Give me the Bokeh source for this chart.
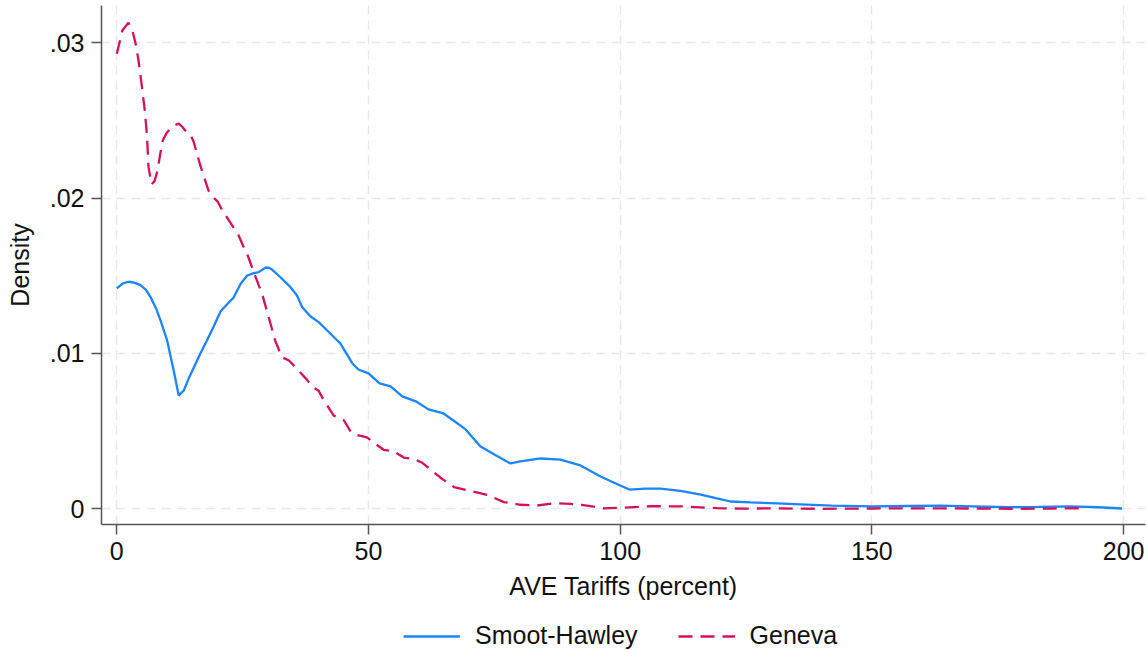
from bokeh.plotting import figure
from bokeh.models import Range1d, FixedTicker, ColumnDataSource, Legend, LegendItem
from bokeh.layouts import column
from bokeh.embed import file_html
from bokeh.resources import INLINE

# Smoot-Hawley kernel density
sh_x = [0, 1.2, 2.4, 3.6, 4.7, 5.8, 6.7, 7.8, 8.7, 10.0, 11.3, 12.3, 13.3, 14.3, 15.3,
        16.6, 17.9, 19.2, 20.6, 22.0, 23.2, 24.6, 25.9, 27.2, 28.2, 29.5, 30.2, 30.9,
        32.5, 34.5, 35.8, 36.8, 38.5, 40.1, 41.8, 43.8, 44.4, 46.8, 48.0, 50.0, 52.2,
        54.4, 56.7, 59.4, 61.9, 64.9, 67.0, 69.3, 72.2, 75.0, 78.2, 80.2, 84.2, 88.1,
        92.1, 96.1, 99.0, 101.8, 105.0, 108.0, 112.0, 116.0, 119.0, 121.9, 125.9, 130.0,
        135.8, 142.0, 150.0, 157.0, 163.6, 170.0, 177.5, 183.0, 189.4, 195.0, 199.7]
sh_y = [0.01419, 0.01452, 0.01462, 0.01455, 0.01440, 0.01410, 0.01363, 0.01290, 0.01212,
        0.01084, 0.00890, 0.00730, 0.00762, 0.00840, 0.00910, 0.01000, 0.01084, 0.01170,
        0.01270, 0.01320, 0.01360, 0.01449, 0.01502, 0.01517, 0.01524, 0.01552, 0.01552,
        0.01539, 0.01491, 0.01427, 0.01374, 0.01300, 0.01238, 0.01202, 0.01148, 0.01084,
        0.01065, 0.00936, 0.00897, 0.00872, 0.00807, 0.00788, 0.00724, 0.00692, 0.00640,
        0.00614, 0.00565, 0.00511, 0.00402, 0.00350, 0.00292, 0.00305, 0.00324, 0.00317,
        0.00279, 0.00208, 0.00165, 0.00124, 0.00130, 0.00130, 0.00115, 0.00092, 0.00068,
        0.00047, 0.00041, 0.00036, 0.00028, 0.00020, 0.00015, 0.00018, 0.00020, 0.00016,
        0.00010, 0.00012, 0.00015, 0.00010, 0.00002]

# Geneva kernel density
gv_x = [0, 0.6, 1.1, 2.3, 3.1, 3.7, 4.3, 5.1, 5.6, 6.0, 6.3, 6.9, 7.5, 8.1, 8.6, 9.1, 9.9,
        10.7, 11.5, 12.3, 13.0, 14.0, 14.6, 15.2, 15.9, 16.6, 17.4, 18.2, 19.0, 20.0, 21.0,
        22.2, 23.2, 24.2, 25.0, 25.9, 27.6, 28.9, 30.2, 31.5, 32.8, 34.2, 35.8, 37.8, 39.1,
        40.1, 41.1, 43.1, 45.1, 46.4, 47.1, 49.7, 51.3, 53.0, 55.0, 57.0, 59.0, 60.5, 61.7,
        64.3, 67.0, 69.6, 73.6, 76.9, 80.2, 83.5, 86.8, 90.1, 93.4, 96.7, 100.0, 106.0,
        112.6, 119.3, 124.6, 130.0, 140.0, 150.0, 160.0, 170.0, 180.0, 186.0, 192.4]
gv_y = [0.0293, 0.0301, 0.0308, 0.0313, 0.0308, 0.0300, 0.0289, 0.0269, 0.0255, 0.0240,
        0.0220, 0.0209, 0.0211, 0.0218, 0.0228, 0.0237, 0.0242, 0.0245, 0.0247, 0.0248,
        0.0246, 0.0242, 0.0241, 0.0237, 0.0229, 0.0221, 0.0213, 0.0205, 0.0201, 0.0198,
        0.0192, 0.0186, 0.0181, 0.0176, 0.0170, 0.0164, 0.0149, 0.0138, 0.0123, 0.0108,
        0.00976, 0.00955, 0.00901, 0.0083, 0.0078, 0.0076, 0.0070, 0.0060, 0.0057, 0.0050,
        0.0048, 0.0046, 0.0042, 0.0038, 0.0037, 0.0033, 0.0032, 0.0030, 0.0027, 0.0020,
        0.0014, 0.0012, 0.0009, 0.00043, 0.00026, 0.00021, 0.00036, 0.00032, 0.00021,
        0.00003, 0.00006, 0.00017, 0.00015, 0.00004, 0.00001, 0.00003, 0.0, 0.00002,
        0.00003, 0.00002, 0.0, 0.00002, 0.00004]

x_ticks = [0, 50, 100, 150, 200]
y_ticks = [0, 0.01, 0.02, 0.03]
y_tick_labels = ["0", ".01", ".02", ".03"]
series_names = ["Smoot-Hawley", "Geneva"]

FONT = "Liberation Sans"
FSIZE = "25px"
BLUE = "#1a85ff"
RED = "#d41159"

src_sh = ColumnDataSource(data=dict(x=sh_x, y=sh_y))
src_gv = ColumnDataSource(data=dict(x=gv_x, y=gv_y))

# ---- main plot ----
p = figure(width=1148, height=602, output_backend="svg", toolbar_location=None,
           title=None, x_range=Range1d(-3.04, 204.35), y_range=Range1d(-0.001011, 0.032408),
           min_border_left=101, min_border_right=3, min_border_top=5, min_border_bottom=78)
p.outline_line_color = None
p.background_fill_color = "white"
p.border_fill_color = "white"

p.line("x", "y", source=src_sh, line_color=BLUE, line_width=2.3)
p.line("x", "y", source=src_gv, line_color=RED, line_width=2.3, line_dash="14 8")

for g in (p.xgrid[0], p.ygrid[0]):
    g.grid_line_color = "#e8e8e8"
    g.grid_line_width = 1.5
    g.grid_line_dash = "9 6"
p.xgrid[0].ticker = FixedTicker(ticks=x_ticks)
p.ygrid[0].ticker = FixedTicker(ticks=y_ticks)

xa = p.xaxis[0]
ya = p.yaxis[0]
xa.ticker = FixedTicker(ticks=x_ticks)
ya.ticker = FixedTicker(ticks=y_ticks)
ya.major_label_overrides = {t: l for t, l in zip(y_ticks, y_tick_labels)}
xa.axis_label = "AVE Tariffs (percent)"
ya.axis_label = "Density"
for ax in (xa, ya):
    ax.axis_line_color = "#555555"
    ax.axis_line_width = 1.5
    ax.major_tick_line_color = "#555555"
    ax.major_tick_line_width = 1.5
    ax.major_tick_in = 0
    ax.major_tick_out = 10
    ax.minor_tick_line_color = None
    ax.major_label_text_font = FONT
    ax.major_label_text_font_size = FSIZE
    ax.major_label_text_color = "#111111"
    ax.axis_label_text_font = FONT
    ax.axis_label_text_font_size = FSIZE
    ax.axis_label_text_font_style = "normal"
    ax.axis_label_text_color = "#111111"
xa.major_label_standoff = 7
xa.axis_label_standoff = 9
ya.major_label_standoff = 7
ya.axis_label_standoff = 13

# ---- legend strip ----
q = figure(width=1148, height=48, output_backend="svg", toolbar_location=None,
           title=None, x_range=Range1d(-20, -10), y_range=Range1d(-20, -10),
           x_axis_location=None, y_axis_location=None,
           min_border_left=0, min_border_right=0, min_border_top=0, min_border_bottom=0)
q.outline_line_color = None
q.grid.visible = False
q.background_fill_color = "white"
q.border_fill_color = "white"
r1 = q.line("x", "y", source=src_sh, line_color=BLUE, line_width=2.3)
r2 = q.line("x", "y", source=src_gv, line_color=RED, line_width=2.3, line_dash="14 8")

lg = Legend(items=[LegendItem(label=series_names[0], renderers=[r1]),
                   LegendItem(label=series_names[1], renderers=[r2])])
lg.orientation = "horizontal"
lg.location = (302, 0)
lg.padding = 0
lg.margin = 0
lg.spacing = 40
lg.glyph_width = 57
lg.label_standoff = 15
lg.border_line_color = None
lg.background_fill_alpha = 0
lg.label_text_font = FONT
lg.label_text_font_size = FSIZE
lg.label_text_color = "#111111"
q.add_layout(lg, "center")

layout = column(p, q, spacing=0)
open("out.html", "w").write(file_html(layout, INLINE))
